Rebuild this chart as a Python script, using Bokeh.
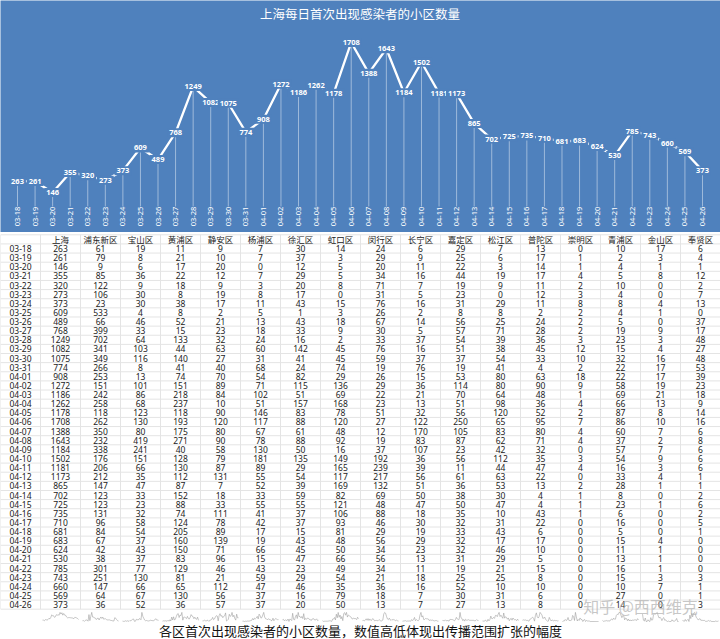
import math
from bokeh.plotting import figure
from bokeh.layouts import column
from bokeh.models import Range1d
from bokeh.core.properties import value
from bokeh.embed import file_html
from bokeh.resources import INLINE

# ---------------- data ----------------
dates = ["03-18", "03-19", "03-20", "03-21", "03-22", "03-23", "03-24", "03-25", "03-26", "03-27",
         "03-28", "03-29", "03-30", "03-31", "04-01", "04-02", "04-03", "04-04", "04-05", "04-06",
         "04-07", "04-08", "04-09", "04-10", "04-11", "04-12", "04-13", "04-14", "04-15", "04-16",
         "04-17", "04-18", "04-19", "04-20", "04-21", "04-22", "04-23", "04-24", "04-25", "04-26"]

headers = ["上海", "浦东新区", "宝山区", "黄浦区", "静安区", "杨浦区", "徐汇区", "虹口区", "闵行区",
           "长宁区", "嘉定区", "松江区", "普陀区", "崇明区", "青浦区", "金山区", "奉贤区"]

shanghai = [263, 261, 146, 355, 320, 273, 373, 609, 489, 768, 1249, 1082, 1075, 774, 908, 1272, 1186, 1262,
            1178, 1708, 1388, 1643, 1184, 1502, 1181, 1173, 865, 702, 725, 735, 710, 681, 683, 624, 530,
            785, 743, 660, 569, 373]
pudong = [61, 79, 9, 85, 122, 106, 23, 533, 66, 399, 702, 341, 349, 266, 253, 151, 242, 258, 118, 262,
          350, 232, 338, 176, 206, 212, 147, 123, 123, 131, 96, 84, 67, 42, 38, 301, 251, 147, 64, 36]
baoshan = [19, 8, 6, 36, 9, 30, 30, 4, 46, 33, 64, 103, 116, 8, 13, 101, 86, 68, 123, 130,
           80, 419, 241, 151, 66, 35, 47, 33, 23, 32, 58, 54, 37, 43, 37, 77, 130, 66, 67, 52]
huangpu = [11, 21, 17, 22, 18, 8, 38, 8, 52, 15, 133, 44, 140, 41, 74, 151, 218, 237, 118, 193,
           175, 271, 40, 128, 130, 112, 87, 152, 88, 74, 124, 205, 160, 150, 83, 129, 81, 65, 130, 36]
jingan = [9, 10, 20, 12, 9, 19, 17, 2, 21, 23, 32, 63, 27, 40, 70, 89, 84, 10, 90, 120,
          80, 90, 58, 79, 87, 131, 7, 18, 33, 111, 78, 89, 139, 71, 96, 46, 21, 112, 56, 57]
yangpu = [7, 7, 0, 7, 3, 8, 11, 5, 13, 18, 24, 60, 31, 68, 54, 71, 102, 51, 146, 117,
          67, 78, 130, 181, 89, 55, 52, 33, 55, 41, 42, 17, 19, 66, 15, 43, 59, 47, 37, 37]
xuhui = [30, 37, 12, 29, 20, 17, 43, 1, 43, 33, 16, 142, 41, 24, 82, 115, 51, 157, 83, 88,
         61, 88, 50, 135, 29, 54, 39, 59, 55, 37, 37, 15, 43, 45, 47, 23, 29, 46, 16, 20]
hongkou = [14, 3, 5, 5, 8, 0, 15, 3, 18, 9, 2, 45, 45, 74, 29, 136, 69, 168, 78, 120,
           48, 92, 16, 149, 165, 117, 169, 82, 121, 106, 93, 81, 48, 50, 66, 49, 54, 35, 79, 50]
minhang = [24, 29, 20, 34, 71, 31, 76, 26, 67, 30, 33, 76, 59, 19, 26, 29, 22, 23, 51, 27,
           12, 19, 37, 192, 239, 217, 132, 69, 48, 88, 46, 29, 56, 34, 56, 34, 21, 36, 18, 13]
changning = [6, 9, 11, 16, 7, 5, 16, 2, 14, 5, 37, 16, 37, 76, 15, 36, 21, 13, 32, 122,
             170, 83, 107, 36, 39, 56, 51, 50, 47, 18, 30, 19, 29, 23, 13, 11, 18, 16, 7, 7]
jiading = [29, 25, 22, 44, 19, 23, 31, 8, 56, 57, 54, 51, 37, 19, 53, 114, 70, 51, 56, 250,
           105, 87, 23, 56, 11, 61, 36, 38, 50, 35, 32, 33, 32, 32, 31, 19, 25, 52, 30, 27]
songjiang = [7, 6, 3, 19, 9, 0, 29, 8, 25, 71, 39, 38, 54, 41, 80, 80, 64, 98, 120, 65,
             83, 62, 42, 112, 44, 63, 53, 30, 47, 10, 31, 43, 17, 46, 29, 21, 25, 10, 31, 13]
putuo = [13, 17, 14, 17, 11, 12, 11, 2, 24, 28, 36, 45, 33, 4, 63, 90, 48, 36, 52, 95,
         80, 71, 32, 35, 47, 22, 13, 4, 4, 43, 22, 6, 17, 10, 5, 15, 8, 10, 6, 8]
chongming = [0, 1, 1, 4, 2, 3, 8, 2, 2, 2, 3, 12, 10, 2, 18, 9, 1, 4, 2, 7,
             4, 4, 0, 3, 4, 0, 2, 1, 1, 1, 0, 0, 0, 0, 0, 0, 0, 0, 0, 0]
qingpu = [10, 2, 4, 5, 10, 4, 8, 4, 5, 19, 23, 15, 32, 22, 22, 58, 69, 66, 87, 86,
          60, 37, 57, 54, 16, 33, 28, 8, 23, 6, 16, 5, 15, 11, 13, 16, 15, 10, 27, 14]
jinshan = [17, 3, 1, 8, 0, 0, 4, 1, 0, 9, 3, 4, 16, 17, 17, 19, 21, 13, 8, 10,
           7, 2, 7, 9, 3, 4, 1, 0, 1, 0, 0, 0, 4, 1, 1, 1, 3, 7, 0, 0]
fengxian = [6, 4, 1, 12, 2, 7, 13, 0, 37, 17, 48, 27, 48, 53, 39, 23, 18, 9, 14, 16,
            6, 8, 6, 6, 6, 1, 1, 2, 6, 2, 5, 1, 0, 0, 0, 0, 3, 1, 1, 3]

columns_data = [shanghai, pudong, baoshan, huangpu, jingan, yangpu, xuhui, hongkou, minhang,
                changning, jiading, songjiang, putuo, chongming, qingpu, jinshan, fengxian]

chart_title = "上海每日首次出现感染者的小区数量"
caption = "各区首次出现感染者的小区数量，数值高低体现出传播范围扩张的幅度"
watermark = "知乎 @西西维克"

# ---------------- style / layout ----------------
BLUE = "#4f81bd"
W = 720
TOP_H = 232
BOT_H = 639 - TOP_H
CJK = value("Noto Sans CJK SC")
NUM = value("Noto Sans")

n = len(dates)
idx = list(range(n))

# ---------------- top chart ----------------
p1 = figure(width=W, height=TOP_H, output_backend="svg", toolbar_location=None,
            x_range=Range1d(-0.968, 40.025), y_range=Range1d(-271, 2145),
            x_axis_location=None, y_axis_location=None,
            min_border=0, background_fill_color=BLUE, border_fill_color=BLUE,
            outline_line_color=None)
p1.grid.visible = False

p1.segment(x0=idx, y0=[0] * n, x1=idx, y1=shanghai, line_color="white",
           line_alpha=0.45, line_width=1)
p1.line(idx, shanghai, line_color="white", line_width=2.3)
p1.text(x=idx, y=shanghai, text=[str(v) for v in shanghai], text_color="white",
        text_font=NUM, text_font_size="7.5px", text_font_style="bold",
        text_align="center", text_baseline="middle",
        background_fill_color=BLUE, padding=2)

DATE_Y = -104
p1.text(x=idx, y=[DATE_Y] * n, text=dates, angle=math.pi / 2, text_color="white",
        text_font=NUM, text_font_size="7.5px", text_align="center", text_baseline="middle")

TITLE_Y = 2010
p1.text(x=[19.5], y=[TITLE_Y], text=[chart_title], text_color="white",
        text_font=CJK, text_font_size="12.5px", text_align="center", text_baseline="middle")

# ---------------- table ----------------
p2 = figure(width=W, height=BOT_H, output_backend="svg", toolbar_location=None,
            x_range=Range1d(-0.5, 17.5), y_range=Range1d(42.82, -1.752),
            x_axis_location=None, y_axis_location=None,
            min_border=0, background_fill_color="white", border_fill_color="white",
            outline_line_color=None)
p2.grid.visible = False

ncol = len(columns_data) + 1
# grid lines
hy = [r - 0.5 for r in range(-1, n + 1)]
p2.segment(x0=[-0.5] * len(hy), y0=hy, x1=[17.5] * len(hy), y1=hy,
           line_color="#e4e4e4", line_width=1)
vx = [k + 0.5 for k in range(-1, ncol)]
p2.segment(x0=vx, y0=[-1.5] * len(vx), x1=vx, y1=[n - 0.5] * len(vx),
           line_color="#e4e4e4", line_width=1)

# header
p2.text(x=list(range(1, ncol)), y=[-1.05] * (ncol - 1), text=headers, text_color="#222222",
        text_font=CJK, text_font_size="8.5px", text_align="center", text_baseline="middle")
# dates
p2.text(x=[0] * n, y=idx, text=dates, text_color="#222222",
        text_font=NUM, text_font_size="8.5px", text_align="center", text_baseline="middle")
# values
tx, ty, tt = [], [], []
for k, col in enumerate(columns_data, start=1):
    for r, v in enumerate(col):
        tx.append(k)
        ty.append(r)
        tt.append(str(v))
p2.text(x=tx, y=ty, text=tt, text_color="#222222",
        text_font=NUM, text_font_size="8.5px", text_align="center", text_baseline="middle")

# sparklines under each column
SPARK_BASE = 40.85
SPARK_H = 1.0
sxs, sys = [], []
for k, col in enumerate(columns_data, start=1):
    mx = max(col) if max(col) > 0 else 1
    sxs.append([k - 0.45 + 0.9 * i / (n - 1) for i in range(n)])
    sys.append([SPARK_BASE - SPARK_H * v / mx for v in col])
p2.multi_line(xs=sxs, ys=sys, line_color="#9a9a9a", line_alpha=0.7, line_width=0.8)

# watermark
p2.text(x=[15.5], y=[39.1], text=[watermark], text_color="#b5b5b5", text_alpha=0.75,
        text_font=CJK, text_font_size="16px", text_align="center", text_baseline="middle")

# caption
p2.text(x=[8.5], y=[41.85], text=[caption], text_color="#111111",
        text_font=CJK, text_font_size="13px", text_align="center", text_baseline="middle")

layout = column(p1, p2, spacing=0)
open("out.html", "w").write(file_html(layout, INLINE))
